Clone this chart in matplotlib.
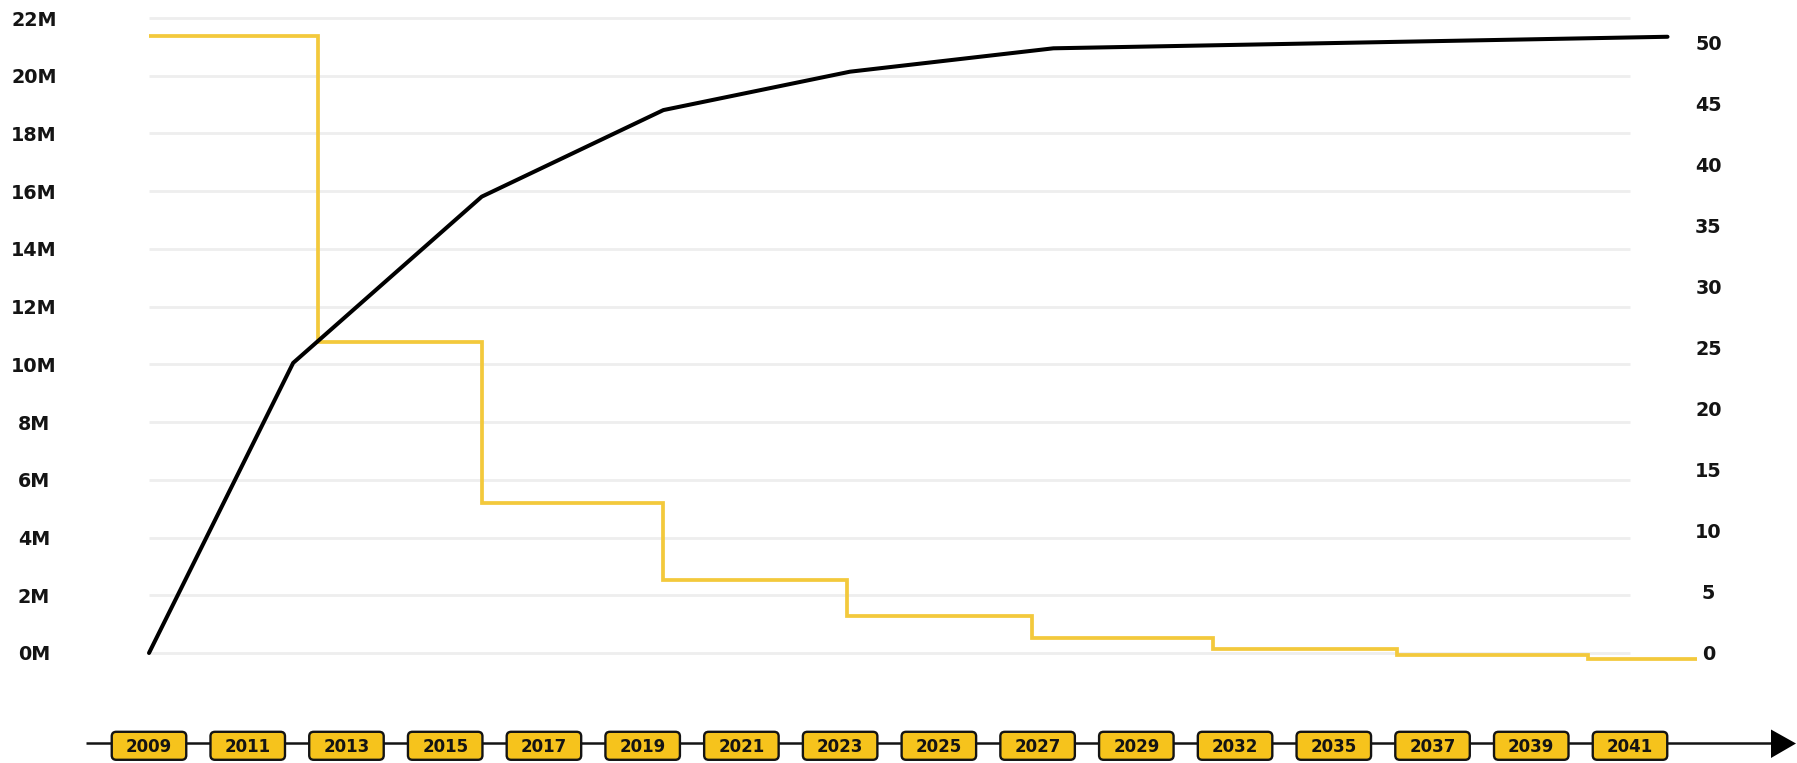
import numpy as np
import matplotlib
matplotlib.use("Agg")
import matplotlib.pyplot as plt
from matplotlib.patches import FancyBboxPatch, Polygon

# ---- data -------------------------------------------------------------
years = ['2009', '2011', '2013', '2015', '2017', '2019', '2021', '2023',
         '2025', '2027', '2029', '2032', '2035', '2037', '2039', '2041']

# circulating supply (millions), positions on the timeline index scale
supply_x = [0, 1.46, 3.37, 5.21, 7.10, 9.16, 15.38]
supply_m = [0, 10.05, 15.81, 18.81, 20.14, 20.95, 21.35]

# block reward per halving epoch
reward_edges = [0, 1.71, 3.37, 5.21, 7.07, 8.94, 10.78, 12.64, 14.57, 15.68]
reward = [50.5, 25.5, 12.3, 6.0, 3.0, 1.2, 0.35, -0.15, -0.5]

supply_ticks = list(range(0, 23, 2))
supply_labels = [f'{v}M' for v in supply_ticks]
reward_ticks = list(range(0, 51, 5))
reward_labels = [str(v) for v in reward_ticks]

# ---- style --------------------------------------------------------------
LINE_YELLOW = '#F3C93C'
BOX_YELLOW = '#F6C31C'
INK = '#141414'
GRID = '#EEEEEE'

W, H, DPI = 1797, 763, 100
fig = plt.figure(figsize=(W / DPI, H / DPI), dpi=DPI)
fig.patch.set_facecolor('white')

left, right, top, bottom = 149, 1630, 18, 653
ax = fig.add_axes([left / W, 1 - bottom / H, (right - left) / W, (bottom - top) / H])
ax2 = ax.twinx()

n = len(years)
ax.set_xlim(0, n - 1)
ax.set_ylim(0, 22)
ax2.set_ylim(0, 52)

for a in (ax, ax2):
    for s in a.spines.values():
        s.set_visible(False)
    a.set_xticks([])

# horizontal guides at the supply ticks
ax.hlines(supply_ticks, 0, n - 1, colors=GRID, lw=2.0, zorder=0, clip_on=False)

ax.set_yticks(supply_ticks, supply_labels, fontweight='bold', ha='center')
ax.tick_params(axis='y', length=0, pad=82.8, labelsize=13.8, labelcolor=INK)
ax2.set_yticks(reward_ticks, reward_labels, fontweight='bold', ha='center')
ax2.tick_params(axis='y', length=0, pad=56.5, labelsize=13.8, labelcolor=INK)

# block reward steps (right scale)
ax2.stairs(reward, reward_edges, baseline=None, color=LINE_YELLOW, lw=2.7,
           zorder=2, clip_on=False)
# supply curve (left scale), drawn above the steps
ax2.plot(supply_x, supply_m, color='black', lw=2.9, zorder=3, clip_on=False,
         solid_joinstyle='round', solid_capstyle='round', transform=ax.transData)

# ---- timeline -----------------------------------------------------------
tl_h = 40
tl = fig.add_axes([left / W, 0, (right - left) / W, tl_h / H])
tl.set_xlim(0, n - 1)
tl.set_ylim(0, tl_h)
tl.axis('off')

p0 = tl.transData.transform((0, 0))
p1 = tl.transData.transform((1, 1))
aspect = (p1[0] - p0[0]) / (p1[1] - p0[1])
unit_px = p1[0] - p0[0]

line_y = 19.7
tl.plot([-63 / unit_px, (n - 1) + 142 / unit_px], [line_y, line_y],
        color=INK, lw=1.8, zorder=1, clip_on=False, solid_capstyle='butt')
tl.add_patch(Polygon([[(n - 1) + 141 / unit_px, 5.0],
                      [(n - 1) + 141 / unit_px, 33.5],
                      [(n - 1) + 166 / unit_px, 19.5]],
                     closed=True, fc='black', ec='none', clip_on=False, zorder=1))

box_w = 74.5 / unit_px
box_y0, box_h = 3.2, 28.0
for i, label in enumerate(years):
    tl.add_patch(FancyBboxPatch((i - box_w / 2, box_y0), box_w, box_h,
                                boxstyle=f'round,pad=0,rounding_size={4.5 / unit_px}',
                                mutation_aspect=aspect,
                                fc=BOX_YELLOW, ec=INK, lw=1.7, zorder=2, clip_on=False))
    tl.text(i, box_y0 + box_h / 2 - 6.1, label, ha='center', va='baseline',
            fontsize=12, fontweight='bold', color=INK, zorder=3)

fig.savefig('out.png', dpi=DPI, facecolor='white')
